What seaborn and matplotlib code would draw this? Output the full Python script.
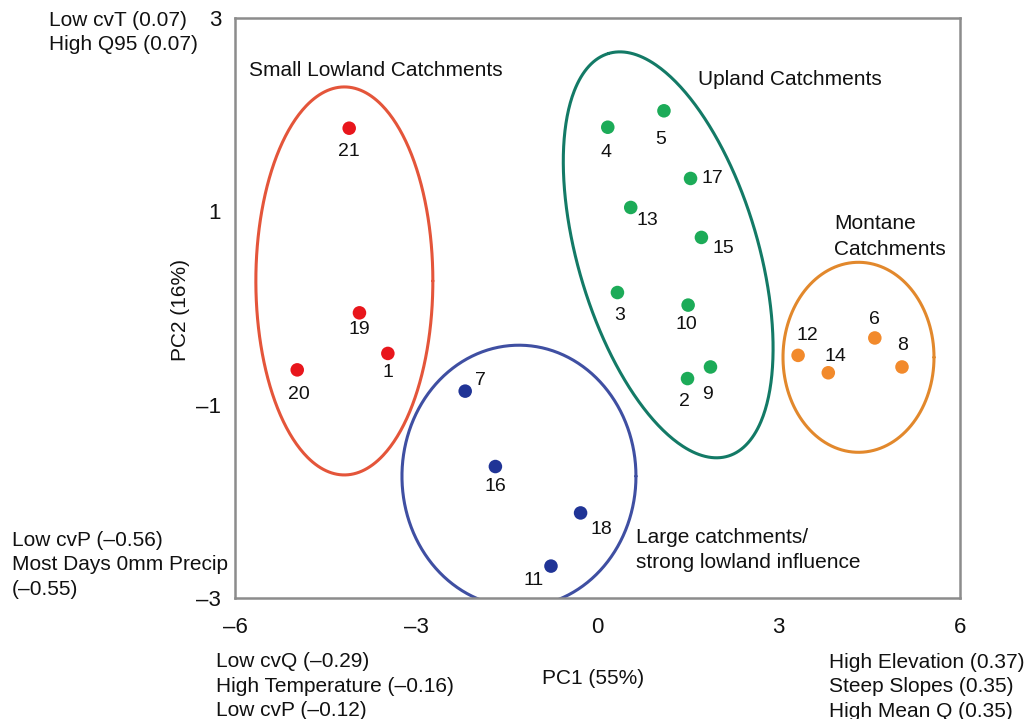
import numpy as np
import pandas as pd
import matplotlib
matplotlib.use('Agg')
from matplotlib import pyplot as plt
import seaborn as sns

# catchment scores on the first two principal components
site_ids = ['21', '19', '1', '20',
            '7', '16', '18', '11',
            '4', '5', '17', '13', '15', '3', '10', '9', '2',
            '12', '14', '6', '8']
pc1 = [-4.11, -3.94, -3.47, -4.97,
       -2.19, -1.69, -0.28, -0.77,
       0.17, 1.10, 1.54, 0.55, 1.72, 0.33, 1.50, 1.87, 1.49,
       3.32, 3.82, 4.59, 5.04]
pc2 = [1.86, -0.05, -0.47, -0.64,
       -0.86, -1.64, -2.12, -2.67,
       1.87, 2.04, 1.34, 1.04, 0.73, 0.16, 0.03, -0.61, -0.73,
       -0.49, -0.67, -0.31, -0.61]
groups = ['lowland'] * 4 + ['large'] * 4 + ['upland'] * 9 + ['montane'] * 4

x_ticks = [-6, -3, 0, 3, 6]
y_ticks = [-3, -1, 1, 3]

df = pd.DataFrame({'site': site_ids, 'pc1': pc1, 'pc2': pc2, 'group': groups})

dot_colors = {'lowland': '#e8161c', 'large': '#203496',
              'upland': '#1cab58', 'montane': '#f28a2c'}
ring_colors = {'lowland': '#e4553a', 'large': '#3f4fa2',
               'upland': '#137a66', 'montane': '#e2882c'}
# group outlines: centre (data), semi axes in pixels, angle of first axis
rings = {'lowland': (-4.19, 0.28, 88.5, 194, 0),
         'large': (-1.30, -1.74, 117, 131, 0),
         'upland': (1.17, 0.55, 210, 90, 106.5),
         'montane': (4.32, -0.51, 75.5, 95, 0)}
# where each number sits relative to its dot (pixels)
label_off = {'21': (0, -23), '19': (0, -17), '1': (0, -19), '20': (2, -25),
             '7': (15, 11), '16': (0, -20), '18': (21, -17), '11': (-17, -14),
             '4': (-2, -25), '5': (-3, -29), '17': (22, 0), '13': (17, -13),
             '15': (22, -11), '3': (2, -23), '10': (-2, -19), '9': (-3, -28),
             '2': (-3, -23), '12': (9, 20), '14': (7, 16), '6': (0, 18),
             '8': (1, 21)}

sns.set_style('white')
plt.rcParams['font.family'] = ['Liberation Sans', 'DejaVu Sans']

W, H = 1028, 719
fig = plt.figure(figsize=(W / 100, H / 100), dpi=100)
ax = fig.add_axes([235 / W, 1 - 598 / H, 725 / W, 580 / H])
ax.set_xlim(-6, 6)
ax.set_ylim(-3, 3)
ax.set_xticks(x_ticks)
ax.set_yticks(y_ticks)
ax.set_xticklabels([str(v).replace('-', '\u2013') for v in x_ticks])
ax.set_yticklabels([str(v).replace('-', '\u2013') for v in y_ticks])

for s in ax.spines.values():
    s.set_color('#8c8c8c')
    s.set_linewidth(1.8)
ax.tick_params(axis='both', direction='out', length=4, width=1.8,
               color='#8c8c8c', labelsize=16, labelcolor='#111111')
ax.tick_params(axis='x', pad=10)
ax.tick_params(axis='y', pad=6)

sns.scatterplot(data=df, x='pc1', y='pc2', hue='group', palette=dot_colors,
                s=95, linewidth=0, legend=False, ax=ax, zorder=3)

for g, (cx, cy, a, b, ang) in rings.items():
    t = np.linspace(0, 2 * np.pi, 400)
    phi = np.deg2rad(ang)
    dx = a * np.cos(t) * np.cos(phi) - b * np.sin(t) * np.sin(phi)
    dy = a * np.cos(t) * np.sin(phi) + b * np.sin(t) * np.cos(phi)
    ox, oy = ax.transData.transform((cx, cy))
    pts = ax.transData.inverted().transform(np.column_stack([ox + dx, oy + dy]))
    ax.plot(pts[:, 0], pts[:, 1], color=ring_colors[g], lw=2.2, zorder=2)

for _, r in df.iterrows():
    ax.annotate(r['site'], (r['pc1'], r['pc2']), xytext=label_off[r['site']],
                textcoords='offset pixels', ha='center', va='center',
                fontsize=14, color='#111111')

ax.set_xlabel('PC1 (55%)', fontsize=15, color='#111111')
ax.set_ylabel('PC2 (16%)', fontsize=15, color='#111111')
ax.xaxis.set_label_coords((593 - 235) / 725, (598 - 669) / 580)
ax.yaxis.set_label_coords((190 - 235) / 725, (598 - 310) / 580)


def ftext(px, py, lines, step=24.5):
    # py is the baseline of the first line, one text per line
    for i, s in enumerate(lines):
        fig.text(px / W, 1 - (py + i * step) / H, s, fontsize=15,
                 va='baseline', color='#111111')


ftext(249, 76, ['Small Lowland Catchments'])
ftext(698, 85, ['Upland Catchments'])
ftext(834, 229, ['Montane', 'Catchments'], step=26)
ftext(636, 543, ['Large catchments/', 'strong lowland influence'])
ftext(49, 26, ['Low cvT (0.07)', 'High Q95 (0.07)'])
ftext(12, 546, ['Low cvP (\u20130.56)', 'Most Days 0mm Precip', '(\u20130.55)'])
ftext(216, 667, ['Low cvQ (\u20130.29)', 'High Temperature (\u20130.16)',
                 'Low cvP (\u20130.12)'])
ftext(829, 668, ['High Elevation (0.37)', 'Steep Slopes (0.35)',
                 'High Mean Q (0.35)'])

fig.savefig('out.png', dpi=100)
